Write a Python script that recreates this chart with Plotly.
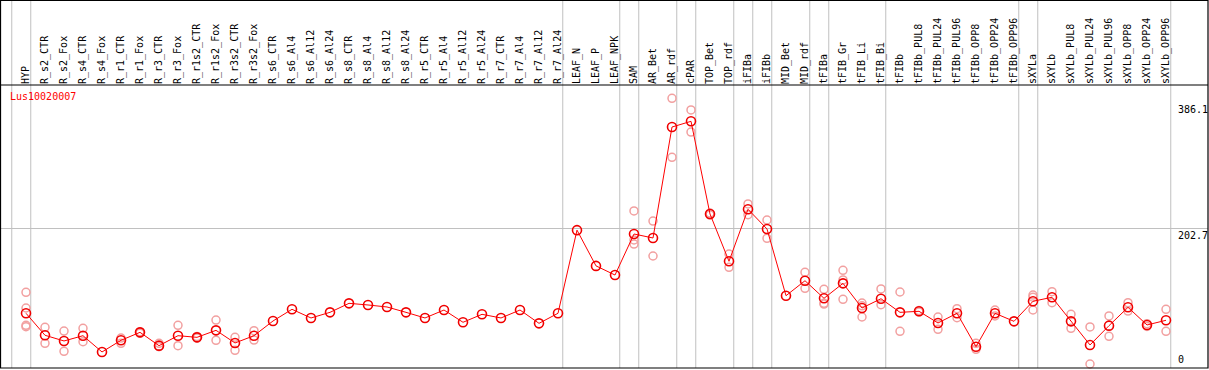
import plotly.graph_objects as go

categories = ["HYP", "R_s2_CTR", "R_s2_Fox", "R_s4_CTR", "R_s4_Fox", "R_r1_CTR", "R_r1_Fox",
              "R_r3_CTR", "R_r3_Fox", "R_r1s2_CTR", "R_r1s2_Fox", "R_r3s2_CTR", "R_r3s2_Fox",
              "R_s6_CTR", "R_s6_Al4", "R_s6_Al12", "R_s6_Al24", "R_s8_CTR", "R_s8_Al4",
              "R_s8_Al12", "R_s8_Al24", "R_r5_CTR", "R_r5_Al4", "R_r5_Al12", "R_r5_Al24",
              "R_r7_CTR", "R_r7_Al4", "R_r7_Al12", "R_r7_Al24", "LEAF_N", "LEAF_P", "LEAF_NPK",
              "SAM", "AR_Bet", "AR_rdf", "cPAR", "TOP_Bet", "TOP_rdf", "iFIBa", "iFIBb",
              "MID_Bet", "MID_rdf", "tFIBa", "tFIB_Gr", "tFIB_Li", "tFIB_Bi", "tFIBb",
              "tFIBb_PUL8", "tFIBb_PUL24", "tFIBb_PUL96", "tFIBb_OPP8", "tFIBb_OPP24",
              "tFIBb_OPP96", "sXYLa", "sXYLb", "sXYLb_PUL8", "sXYLb_PUL24", "sXYLb_PUL96",
              "sXYLb_OPP8", "sXYLb_OPP24", "sXYLb_OPP96"]

means = [78.6, 46.6, 38.3, 46.0, 22.3, 39.3, 50.9, 31.5, 46.0, 43.6, 53.8, 35.4, 46.0,
         67.4, 84.4, 71.8, 80.0, 93.1, 90.7, 87.8, 80.0, 71.8, 83.4, 65.5, 77.1,
         71.8, 83.4, 64.0, 78.6, 199.6, 147.6, 134.3,
         194.0, 188.2, 349.7, 358.0, 223.1, 154.3, 230.0, 201.3,
         104.2, 126.0, 100.4, 122.2, 86.3, 99.8, 80.0,
         81.5, 64.5, 78.6, 30.0, 78.6, 66.9, 96.1, 101.9, 66.9, 32.5, 60.6,
         87.3, 61.6, 68.4]

replicates = [[109.2, 86.3, 61.1, 59.1], [58.2, 34.9], [52.8, 23.3], [56.8, 37.3], [],
              [42.6, 34.9], [51.8, 49.5], [34.9, 30.0], [61.1, 31.5], [45.0, 42.5],
              [68.8, 39.3], [43.6, 24.7], [53.3, 39.7],
              [], [], [], [], [], [], [], [], [], [], [], [], [], [], [], [], [], [], [],
              [227.5, 185.3, 179.4], [212.9, 162.0], [391.5, 305.6], [374.5, 342.4],
              [224.5, 221.5], [164.9, 145.5], [237.7, 222.1], [214.4, 187.7],
              [], [138.3, 115.0], [113.5, 93.1, 92.0], [141.2, 127.1, 99.0],
              [93.6, 73.2, 89.5], [114.0, 91.1], [109.6, 52.4],
              [82.5, 80.5], [73.2, 55.3], [85.3, 72.2], [34.9, 26.2], [83.4, 74.7], [],
              [105.2, 83.4, 102.0], [110.0, 94.0], [77.1, 56.8], [58.7, 4.8],
              [74.7, 45.1], [94.0, 81.9], [63.5, 59.5], [84.4, 52.4]]

# group separators: vertical line drawn after these category indices
group_breaks = [-1, 0, 28, 31, 32, 34, 35, 37, 38, 39, 41, 42, 45, 52, 53, 60]
grid_values = [202.7]
scale_labels = ["0", "202.7", "386.1"]
scale_values = [0, 202.7, 386.1]
gene_name = "Lus10020007"

W, H = 1209, 370
ML, MR, MT, MB = 1, 1, 85, 2
plot_h = H - MT - MB
plot_w = W - ML - MR
top_paper = (H - MB - 0.5) / plot_h

rep_x, rep_y = [], []
for cat, reps in zip(categories, replicates):
    for v in reps:
        rep_x.append(cat)
        rep_y.append(v)

FONT = "DejaVu Sans Mono"
fig = go.Figure()
fig.add_trace(go.Scatter(x=rep_x, y=rep_y, mode="markers",
                         marker=dict(symbol="circle-open", size=8, color="#f2a0a0",
                                     line=dict(width=1.5, color="#f2a0a0")),
                         showlegend=False, hoverinfo="skip", cliponaxis=False))
fig.add_trace(go.Scatter(x=categories, y=means, mode="lines+markers",
                         line=dict(color="#ff0000", width=1),
                         marker=dict(symbol="circle-open", size=9, color="#f00000",
                                     line=dict(width=1.6, color="#f00000")),
                         showlegend=False))

shapes = []
for k in group_breaks:
    shapes.append(dict(type="line", xref="x", yref="paper", x0=k + 0.25, x1=k + 0.25,
                       y0=0, y1=top_paper, line=dict(color="#c0c0c0", width=1), layer="below"))
shapes.append(dict(type="line", xref="paper", yref="paper", x0=0, x1=1, y0=1, y1=1,
                   line=dict(color="black", width=1.2)))
shapes.append(dict(type="rect", xref="paper", yref="paper", x0=-0.0004, x1=1.0, y0=0,
                   y1=top_paper, line=dict(color="black", width=1.2)))

annotations = [dict(xref="paper", yref="paper", x=(8 - ML) / plot_w, y=(H - MB - 96) / plot_h,
                    xanchor="left", yanchor="middle", text=gene_name, showarrow=False,
                    font=dict(family=FONT, size=10, color="#ff0000"))]
for lab, v in zip(scale_labels, scale_values):
    annotations.append(dict(xref="paper", yref="y", x=(1176 - ML) / plot_w, y=v,
                            xanchor="left", yanchor="bottom" if v == 0 else "top",
                            text=lab, showarrow=False,
                            font=dict(family=FONT, size=10, color="black")))

x_lo = (ML - 26) / 19.0
x_hi = (W - MR - 26) / 19.0
y_scale = 0.6871
y_lo = (367.3 - (H - MB)) / y_scale
y_hi = (367.3 - MT) / y_scale

fig.update_layout(
    width=W, height=H, margin=dict(l=ML, r=MR, t=MT, b=MB, autoexpand=False),
    paper_bgcolor="white", plot_bgcolor="white",
    xaxis=dict(type="category", categoryorder="array", categoryarray=categories,
               range=[x_lo, x_hi], side="top", tickangle=-90, showgrid=False,
               ticks="", zeroline=False, showline=False, automargin=False,
               tickfont=dict(family=FONT, size=10, color="black")),
    yaxis=dict(range=[y_lo, y_hi], tickvals=grid_values, showticklabels=False,
               showgrid=True, gridcolor="#c0c0c0", gridwidth=1, zeroline=False,
               ticks="", showline=False, automargin=False),
    shapes=shapes, annotations=annotations,
)

fig.write_html("out.html", config={"displayModeBar": False},
               post_script="document.body.style.margin='0';document.body.style.overflow='hidden';")
